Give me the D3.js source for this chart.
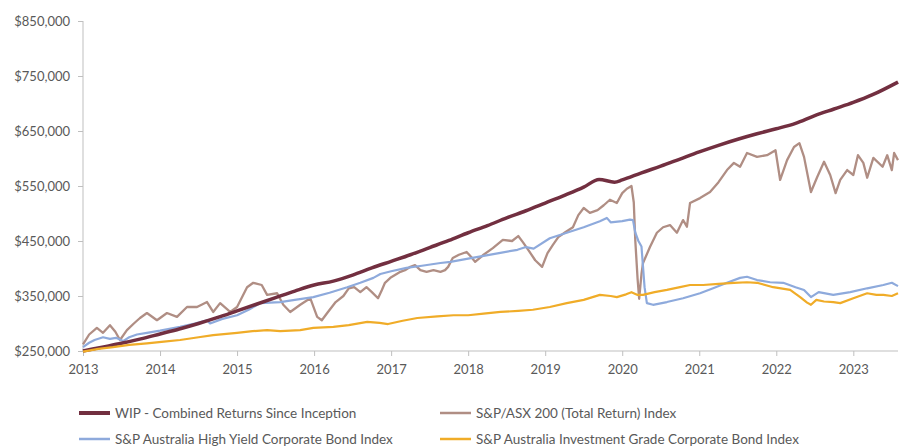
<!DOCTYPE html>
<html>
<head>
<meta charset="utf-8">
<script src="https://cdnjs.cloudflare.com/ajax/libs/d3/7.8.5/d3.min.js"></script>
<style>
  body { margin: 0; background: #fff; }
  svg text { font-family: Lato, "Open Sans", sans-serif; fill: #595959; }
  .axis path, .axis line { stroke: #bfbfbf; }
</style>
</head>
<body>
<div id="chart"></div>
<script>
// values in $ thousands, time as decimal year
var yTicks = [250, 350, 450, 550, 650, 750, 850];
var xTicks = [2013, 2014, 2015, 2016, 2017, 2018, 2019, 2020, 2021, 2022, 2023];

var wip = [
  [2013.00, 250], [2013.25, 257], [2013.50, 264], [2013.75, 272], [2014.00, 281],
  [2014.25, 290], [2014.50, 300], [2014.75, 311], [2015.00, 323], [2015.25, 335],
  [2015.50, 347], [2015.75, 359], [2016.00, 370], [2016.25, 377], [2016.50, 388],
  [2016.75, 401], [2017.00, 413], [2017.25, 425], [2017.50, 438], [2017.75, 451],
  [2018.00, 465], [2018.25, 478], [2018.50, 492], [2018.75, 505], [2019.00, 519],
  [2019.25, 533], [2019.50, 548], [2019.70, 562], [2019.90, 557], [2020.00, 561],
  [2020.25, 574], [2020.50, 586], [2020.75, 599], [2021.00, 612], [2021.25, 624],
  [2021.50, 635], [2021.75, 645], [2022.00, 654], [2022.25, 664], [2022.50, 678],
  [2022.75, 690], [2023.00, 702], [2023.25, 716], [2023.58, 739]
];

var asx = [
  [2013.00, 262], [2013.08, 280], [2013.18, 292], [2013.26, 283], [2013.35, 297],
  [2013.42, 285], [2013.48, 270], [2013.57, 288], [2013.66, 300], [2013.74, 310],
  [2013.83, 319], [2013.96, 306], [2014.09, 319], [2014.22, 312], [2014.35, 330],
  [2014.48, 330], [2014.61, 339], [2014.69, 321], [2014.78, 337], [2014.91, 321],
  [2015.00, 330], [2015.13, 366], [2015.21, 374], [2015.32, 370], [2015.39, 352],
  [2015.52, 355], [2015.60, 334], [2015.69, 321], [2015.82, 334], [2015.95, 346],
  [2016.04, 312], [2016.10, 306], [2016.18, 321], [2016.28, 339], [2016.38, 350],
  [2016.45, 364], [2016.52, 366], [2016.60, 357], [2016.68, 366], [2016.75, 357],
  [2016.83, 346], [2016.88, 361], [2016.92, 374], [2016.99, 383], [2017.05, 388],
  [2017.12, 394], [2017.18, 397], [2017.25, 403], [2017.31, 406], [2017.38, 397],
  [2017.46, 394], [2017.55, 397], [2017.64, 394], [2017.70, 397], [2017.74, 403],
  [2017.80, 419], [2017.88, 425], [2017.98, 430], [2018.04, 421], [2018.09, 412],
  [2018.20, 425], [2018.32, 437], [2018.45, 452], [2018.57, 450], [2018.65, 459],
  [2018.71, 448], [2018.78, 434], [2018.87, 415], [2018.96, 403], [2019.03, 428],
  [2019.10, 443], [2019.17, 457], [2019.26, 466], [2019.36, 475], [2019.43, 497],
  [2019.50, 510], [2019.58, 501], [2019.68, 506], [2019.76, 515], [2019.84, 525],
  [2019.93, 519], [2020.00, 537], [2020.06, 545], [2020.12, 550], [2020.15, 520],
  [2020.17, 450], [2020.20, 380], [2020.22, 345], [2020.25, 390], [2020.27, 410],
  [2020.36, 439], [2020.45, 465], [2020.53, 475], [2020.62, 479], [2020.71, 465],
  [2020.79, 488], [2020.84, 476], [2020.88, 519], [2021.01, 528], [2021.14, 539],
  [2021.25, 557], [2021.36, 579], [2021.45, 592], [2021.53, 585], [2021.62, 610],
  [2021.75, 603], [2021.88, 606], [2021.99, 615], [2022.05, 561], [2022.14, 597],
  [2022.23, 621], [2022.30, 628], [2022.36, 603], [2022.45, 539], [2022.53, 566],
  [2022.62, 594], [2022.70, 570], [2022.77, 537], [2022.83, 561], [2022.92, 579],
  [2023.00, 570], [2023.06, 606], [2023.13, 592], [2023.18, 565], [2023.26, 601],
  [2023.38, 585], [2023.44, 606], [2023.50, 579], [2023.53, 610], [2023.58, 597]
];

var highYield = [
  [2013.00, 257], [2013.08, 265], [2013.15, 270], [2013.26, 275], [2013.35, 272],
  [2013.43, 274], [2013.52, 268], [2013.60, 275], [2013.70, 280], [2013.83, 283],
  [2014.00, 287], [2014.26, 294], [2014.45, 300], [2014.61, 306], [2014.65, 300],
  [2014.80, 308], [2015.00, 315], [2015.15, 325], [2015.30, 337], [2015.56, 339],
  [2015.75, 343], [2015.99, 348], [2016.20, 356], [2016.43, 366], [2016.60, 374],
  [2016.77, 383], [2016.86, 390], [2017.00, 395], [2017.20, 401], [2017.40, 405],
  [2017.64, 410], [2017.77, 412], [2018.00, 418], [2018.20, 423], [2018.40, 428],
  [2018.64, 434], [2018.75, 439], [2018.85, 436], [2019.06, 455], [2019.28, 465],
  [2019.50, 475], [2019.71, 486], [2019.80, 492], [2019.85, 484], [2020.00, 486],
  [2020.10, 489], [2020.14, 488], [2020.17, 465], [2020.21, 450], [2020.25, 440],
  [2020.29, 366], [2020.32, 337], [2020.40, 334], [2020.58, 339], [2020.79, 346],
  [2021.01, 355], [2021.18, 364], [2021.36, 374], [2021.53, 383], [2021.62, 385],
  [2021.75, 379], [2021.92, 375], [2022.09, 374], [2022.25, 366], [2022.36, 361],
  [2022.45, 348], [2022.55, 357], [2022.74, 352], [2022.96, 357], [2023.18, 364],
  [2023.39, 370], [2023.50, 374], [2023.58, 368]
];

var invGrade = [
  [2013.00, 249], [2013.20, 254], [2013.39, 257], [2013.60, 261], [2013.83, 264],
  [2014.05, 267], [2014.26, 270], [2014.50, 275], [2014.69, 279], [2015.00, 283],
  [2015.20, 286], [2015.39, 288], [2015.56, 286], [2015.82, 288], [2015.99, 292],
  [2016.25, 294], [2016.45, 297], [2016.69, 303], [2016.85, 301], [2016.96, 299],
  [2017.15, 305], [2017.34, 310], [2017.60, 313], [2017.81, 315], [2018.00, 315],
  [2018.20, 318], [2018.42, 321], [2018.65, 323], [2018.84, 325], [2019.06, 330],
  [2019.28, 337], [2019.50, 343], [2019.71, 352], [2019.85, 350], [2019.93, 348],
  [2020.05, 353], [2020.12, 357], [2020.20, 352], [2020.27, 352], [2020.42, 357],
  [2020.58, 361], [2020.75, 366], [2020.88, 370], [2021.05, 370], [2021.25, 372],
  [2021.45, 374], [2021.62, 375], [2021.75, 374], [2021.96, 366], [2022.18, 361],
  [2022.31, 348], [2022.40, 338], [2022.45, 334], [2022.52, 343], [2022.62, 340],
  [2022.74, 339], [2022.83, 337], [2023.00, 346], [2023.18, 355], [2023.30, 352],
  [2023.39, 352], [2023.50, 350], [2023.58, 355]
];

var seriesNames = [
  "WIP - Combined Returns Since Inception",
  "S&P/ASX 200 (Total Return) Index",
  "S&P Australia High Yield Corporate Bond Index",
  "S&P Australia Investment Grade Corporate Bond Index"
];
var seriesColors = ["#722f40", "#b08e84", "#8eaadc", "#f0ac28"];
var seriesWidths = [3.5, 2.3, 2.2, 2.2];

var width = 906, height = 446;
var svg = d3.select("#chart").append("svg")
  .attr("width", width).attr("height", height);

var x = d3.scaleLinear().domain([2013, 2023.58]).range([83, 898]);
var y = d3.scaleLinear().domain([250, 850]).range([351, 21]);

var yAxis = d3.axisLeft(y).tickValues(yTicks).tickSize(5).tickPadding(8)
  .tickFormat(function(d) { return "$" + d3.format(",")(d * 1000); });
svg.append("g").attr("class", "axis").attr("transform", "translate(83,0)").call(yAxis)
  .call(function(g) { g.select(".domain").attr("d", "M0,21V351"); })
  .selectAll("text").style("font-size", "13px").style("fill", "#595959");

var xAxis = d3.axisBottom(x).tickValues(xTicks).tickSize(5).tickPadding(9)
  .tickFormat(d3.format("d"));
svg.append("g").attr("class", "axis").attr("transform", "translate(0,351)").call(xAxis)
  .call(function(g) { g.select(".domain").attr("d", "M83,0H898"); })
  .selectAll("text").style("font-size", "13px").style("fill", "#595959");

var line = d3.line()
  .x(function(d) { return x(d[0]); })
  .y(function(d) { return y(d[1]); });
var smooth = d3.line()
  .x(function(d) { return x(d[0]); })
  .y(function(d) { return y(d[1]); })
  .curve(d3.curveMonotoneX);

var data = [wip, asx, highYield, invGrade];
var drawOrder = [1, 2, 0, 3];
drawOrder.forEach(function(i) {
  svg.append("path")
    .datum(data[i])
    .attr("fill", "none")
    .attr("stroke", seriesColors[i])
    .attr("stroke-width", seriesWidths[i])
    .attr("stroke-linejoin", "round")
    .attr("d", i === 0 ? smooth(data[i]) : line(data[i]));
});

// legend, two columns
var legendPos = [[79, 413], [440, 413], [79, 439], [440, 439]];
seriesNames.forEach(function(name, i) {
  var g = svg.append("g").attr("transform", "translate(" + legendPos[i][0] + "," + legendPos[i][1] + ")");
  g.append("line").attr("x1", 0).attr("x2", 31).attr("y1", 0).attr("y2", 0)
    .attr("stroke", seriesColors[i]).attr("stroke-width", i === 0 ? 4 : 2.5);
  g.append("text").attr("x", 36).attr("y", 0).attr("dy", "0.35em")
    .style("font-size", "13.5px").text(name);
});
</script>
</body>
</html>
